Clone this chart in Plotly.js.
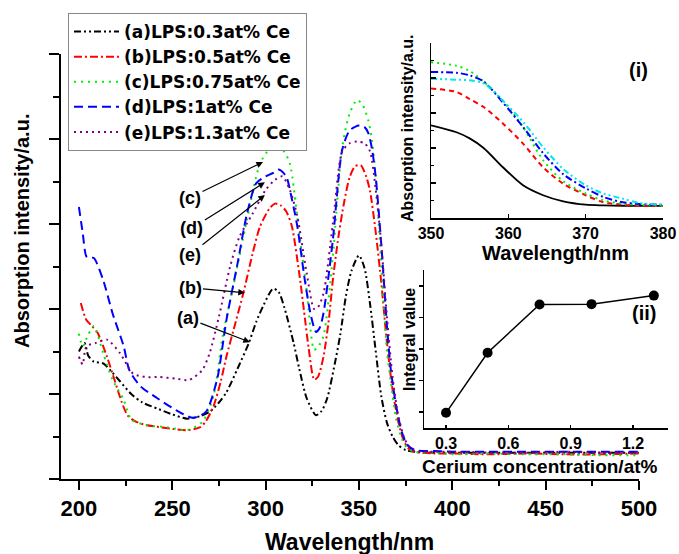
<!DOCTYPE html>
<html>
<head>
<meta charset="utf-8">
<script src="https://cdn.plot.ly/plotly-3.0.1.min.js"></script>
<style>html,body{margin:0;padding:0;background:#fff}#chart{width:679px;height:554px}</style>
</head>
<body>
<div id="chart"></div>
<script>
// ---------- main spectra ----------
const seriesNames = ['(a)LPS:0.3at% Ce','(b)LPS:0.5at% Ce','(c)LPS:0.75at% Ce','(d)LPS:1at% Ce','(e)LPS:1.3at% Ce'];

const wlA = [200,203,205,208,213,218,222,228,234,243,250,258,265,270,275,279,285,291,295,299,304,307,310,315,318,322,327,330,333,337,340,343,346,350,353,356,359,362,365,368,371,375,380,390,400,420,440,460,480,500];
const absA = [1.50,1.60,1.45,1.38,1.36,1.25,1.15,1.00,0.90,0.82,0.76,0.71,0.74,0.79,0.90,1.02,1.30,1.60,1.85,2.05,2.24,2.20,2.02,1.60,1.30,0.95,0.75,0.80,0.95,1.35,1.70,2.15,2.45,2.63,2.48,2.05,1.50,0.97,0.66,0.50,0.40,0.34,0.32,0.31,0.31,0.31,0.31,0.31,0.31,0.31];

const wlB = [201,204,207,210,215,219,223,226,230,235,243,250,258,265,268,272,276,279,284,288,293,297,302,305,308,311,314,318,321,323,326,328,331,334,336,339,342,345,348,351,354,356,359,362,365,368,371,374,377,380,390,400,420,440,460,480,500];
const absB = [2.07,1.87,1.80,1.72,1.44,1.17,0.90,0.75,0.68,0.64,0.61,0.59,0.575,0.61,0.68,0.85,1.15,1.44,1.85,2.18,2.65,2.97,3.18,3.24,3.22,3.15,2.98,2.42,1.90,1.55,1.17,1.20,1.44,1.90,2.34,2.85,3.25,3.55,3.68,3.69,3.55,3.38,2.90,2.30,1.60,1.05,0.68,0.45,0.35,0.32,0.30,0.30,0.29,0.30,0.29,0.29,0.30];

const wlC = [200,202,205,208,210,213,218,224,228,236,247,258,266,272,277,283,290,297,302,306,310,313,318,322,326,328,331,336,341,345,349,352,355,357,359,361,363,365,367,370,373,376,380,390,400,420,440,460,480,500];
const absC = [1.71,1.56,1.70,1.80,1.70,1.48,1.17,0.93,0.70,0.635,0.61,0.576,0.67,0.97,1.68,2.30,3.05,3.71,3.88,3.91,3.85,3.71,2.89,2.22,1.52,1.55,1.68,2.62,3.90,4.30,4.46,4.40,4.22,3.98,3.55,2.85,2.15,1.50,1.15,0.70,0.47,0.36,0.32,0.31,0.29,0.30,0.29,0.29,0.28,0.28];

const wlD = [200,202,204,206,208,213,218,224,227,233,242,252,261,268,274,279,285,290,295,300,304,307,311,314,317,321,324,327,329,331,336,341,345,350,353,355,357,359,362,365,367,370,373,376,380,390,400,420,440,460,480,500];
const absD = [3.20,2.90,2.62,2.60,2.60,2.34,1.95,1.56,1.28,1.09,0.95,0.81,0.72,0.79,1.17,1.87,2.54,3.12,3.48,3.56,3.60,3.64,3.56,3.30,2.97,2.34,1.95,1.73,1.78,1.95,2.81,3.87,4.10,4.16,4.14,4.07,3.88,3.55,2.75,1.80,1.30,0.85,0.55,0.40,0.34,0.33,0.32,0.32,0.32,0.32,0.32,0.32];

const wlE = [200,202,204,209,215,222,229,236,243,252,259,266,270,275,281,286,293,300,305,309,313,317,322,326,328,331,336,341,345,349,353,356,359,362,365,368,371,374,377,380,390,400,420,440,460,480,500];
const absE = [1.44,1.35,1.56,1.60,1.64,1.48,1.24,1.20,1.20,1.18,1.165,1.28,1.48,1.91,2.50,2.85,3.12,3.40,3.52,3.56,3.40,3.09,2.42,2.00,2.02,2.18,3.00,3.85,3.95,3.97,3.95,3.85,3.40,2.75,1.90,1.20,0.75,0.50,0.37,0.33,0.32,0.32,0.31,0.31,0.32,0.31,0.31];

// ---------- inset (i): zoom 350-380 nm ----------
const wlInset = [350,353.3,355,356.8,359.3,361.9,364.5,367.1,370,372.3,374.8,377,380];
const insetA = [0.53,0.49,0.455,0.40,0.29,0.187,0.13,0.095,0.076,0.072,0.070,0.069,0.069];
const insetB = [0.74,0.72,0.68,0.634,0.54,0.425,0.29,0.196,0.13,0.09,0.076,0.070,0.069];
const insetC = [0.89,0.87,0.84,0.78,0.67,0.52,0.33,0.21,0.14,0.10,0.082,0.075,0.070];
const insetD = [0.834,0.83,0.815,0.78,0.66,0.52,0.37,0.25,0.17,0.12,0.09,0.080,0.076];
const insetE = [0.796,0.79,0.787,0.77,0.67,0.55,0.405,0.28,0.187,0.14,0.11,0.085,0.076];

// ---------- inset (ii): integral value ----------
const ceConc = [0.3,0.5,0.75,1.0,1.3];
const integralValue = [0.48,2.38,3.91,3.92,4.19];

const mainTickVals = [200,250,300,350,400,450,500];
const insetTickVals = [350,360,370,380];
const concTickVals = [0.3,0.6,0.9,1.2];
const concTickText = ['0.3','0.6','0.9','1.2'];

const FF = 'Liberation Sans, Arial, sans-serif';
const f = (s)=>({family:FF,size:s,color:'#000',weight:'bold'});

const mainColors = ['#000000','#ff0000','#00ee00','#0000ff','#800080'];
const mainDash = ['7px,3px,2px,3px,2px,3px','8px,3px,2px,3px','2px,5px','9px,5px','2px,4px'];
const mainX = [wlA,wlB,wlC,wlD,wlE];
const mainY = [absA,absB,absC,absD,absE];

const traces = [];
for(let i=0;i<5;i++){
  traces.push({x:mainX[i],y:mainY[i],type:'scatter',mode:'lines',name:seriesNames[i],
    line:{color:mainColors[i],width:2,dash:mainDash[i],shape:'spline',smoothing:0.7},
    xaxis:'x',yaxis:'y'});
}
const insetColors = ['#000000','#ff0000','#00ee00','#0000ff','#00e5ee'];
const insetDash = ['solid','5px,4px','2px,4px','7px,3px,2px,3px','6px,3px,2px,3px,2px,3px'];
const insetY = [insetA,insetB,insetC,insetD,insetE];
for(let i=0;i<5;i++){
  traces.push({x:wlInset,y:insetY[i],type:'scatter',mode:'lines',showlegend:false,
    line:{color:insetColors[i],width:i===0?1.8:2,dash:insetDash[i],shape:'spline',smoothing:0.8},
    xaxis:'x2',yaxis:'y2'});
}
traces.push({x:ceConc,y:integralValue,type:'scatter',mode:'lines+markers',showlegend:false,
  line:{color:'#000',width:1.5},marker:{color:'#000',size:10},xaxis:'x3',yaxis:'y3'});

const W=679,H=554;
const px=(v)=>v/W, py=(v)=>(H-v)/H;

const arrowLab = (txt,hx,hy,tx,ty)=>({text:txt,x:hx,y:hy,ax:tx,ay:ty,xref:'x',yref:'y',axref:'x',ayref:'y',
  showarrow:true,arrowhead:2,arrowsize:1.1,arrowwidth:1.2,arrowcolor:'#000',font:f(18),standoff:0,startstandoff:0});

const layout = {
  width:W,height:H,margin:{l:0,r:0,t:0,b:0},paper_bgcolor:'#fff',plot_bgcolor:'rgba(0,0,0,0)',
  showlegend:true,
  legend:{x:px(68),y:py(13),xanchor:'left',yanchor:'top',bordercolor:'#888',borderwidth:1,bgcolor:'#fff',
    font:{family:'DejaVu Sans, Liberation Sans, sans-serif',size:17,color:'#000',weight:'bold'},itemwidth:45,tracegroupgap:0,traceorder:'normal'},
  xaxis:{domain:[px(61),px(639)],range:[190.4,500],tickvals:mainTickVals,ticks:'outside',ticklen:9,tickwidth:2,tickcolor:'#000',
    showline:true,linewidth:2,linecolor:'#000',showgrid:false,zeroline:false,tickfont:f(22),anchor:'y',
    minor:{ticks:'outside',ticklen:5,tickwidth:2,tickcolor:'#000',tick0:200,dtick:25,showgrid:false}},
  yaxis:{domain:[py(479),py(54)],range:[0,5],tick0:0,dtick:1,ticks:'outside',ticklen:10,tickwidth:2,tickcolor:'#000',
    showline:true,linewidth:2,linecolor:'#000',showgrid:false,zeroline:false,showticklabels:false,anchor:'x',
    minor:{ticks:'outside',ticklen:6,tickwidth:2,tickcolor:'#000',tick0:0,dtick:0.5,showgrid:false}},
  xaxis2:{domain:[px(431),px(663)],range:[350,380],tickvals:insetTickVals,ticks:'inside',ticklen:4,tickwidth:1.5,tickcolor:'#000',
    showline:true,linewidth:1.5,linecolor:'#000',showgrid:false,zeroline:false,tickfont:f(16),anchor:'y2'},
  yaxis2:{domain:[py(218),py(43)],range:[0,1],tick0:0,dtick:0.2,ticks:'inside',ticklen:5,tickwidth:1.5,tickcolor:'#000',
    showline:true,linewidth:1.5,linecolor:'#000',showgrid:false,zeroline:false,showticklabels:false,anchor:'x2',
    minor:{ticks:'inside',ticklen:3,tickwidth:1.2,tickcolor:'#000',dtick:0.1,showgrid:false}},
  xaxis3:{domain:[px(424),px(668)],range:[0.194,1.368],tickvals:concTickVals,ticktext:concTickText,ticks:'inside',ticklen:3,tickwidth:1.5,tickcolor:'#000',
    showline:true,linewidth:1.5,linecolor:'#000',showgrid:false,zeroline:false,tickfont:f(16),anchor:'y3'},
  yaxis3:{domain:[py(428),py(270)],range:[0,5],tick0:0.5,dtick:1,ticks:'outside',ticklen:4,tickwidth:1.5,tickcolor:'#000',
    showline:true,linewidth:1.5,linecolor:'#000',showgrid:false,zeroline:false,showticklabels:false,anchor:'x3'},
  annotations:[
    {text:'Wavelength/nm',x:px(350),y:py(542),xref:'paper',yref:'paper',showarrow:false,font:f(23),xanchor:'center',yanchor:'middle'},
    {text:'Absorption intensity/a.u.',x:px(22),y:py(231),xref:'paper',yref:'paper',showarrow:false,font:f(20),textangle:-90,xanchor:'center',yanchor:'middle'},
    {text:'Wavelength/nm',x:px(555),y:py(253),xref:'paper',yref:'paper',showarrow:false,font:f(20),xanchor:'center',yanchor:'middle'},
    {text:'Absorption intensity/a.u.',x:px(408),y:py(128),xref:'paper',yref:'paper',showarrow:false,font:f(16),textangle:-90,xanchor:'center',yanchor:'middle'},
    {text:'(i)',x:px(638),y:py(70),xref:'paper',yref:'paper',showarrow:false,font:f(20),xanchor:'center',yanchor:'middle'},
    {text:'Cerium concentration/at%',x:px(540),y:py(466),xref:'paper',yref:'paper',showarrow:false,font:f(19),xanchor:'center',yanchor:'middle'},
    {text:'Integral value',x:px(409),y:py(340),xref:'paper',yref:'paper',showarrow:false,font:f(16),textangle:-90,xanchor:'center',yanchor:'middle'},
    {text:'(ii)',x:px(644),y:py(313),xref:'paper',yref:'paper',showarrow:false,font:f(20),xanchor:'center',yanchor:'middle'},
    arrowLab('(c)',298.6,3.73,259.5,3.31),
    arrowLab('(d)',299.6,3.49,260.5,2.95),
    arrowLab('(e)',299.6,3.34,259.5,2.64),
    arrowLab('(b)',288.9,2.19,259.5,2.25),
    arrowLab('(a)',291.6,1.61,258.4,1.89)
  ]
};
Plotly.newPlot('chart',traces,layout,{displayModeBar:false,staticPlot:true});
</script>
</body>
</html>
